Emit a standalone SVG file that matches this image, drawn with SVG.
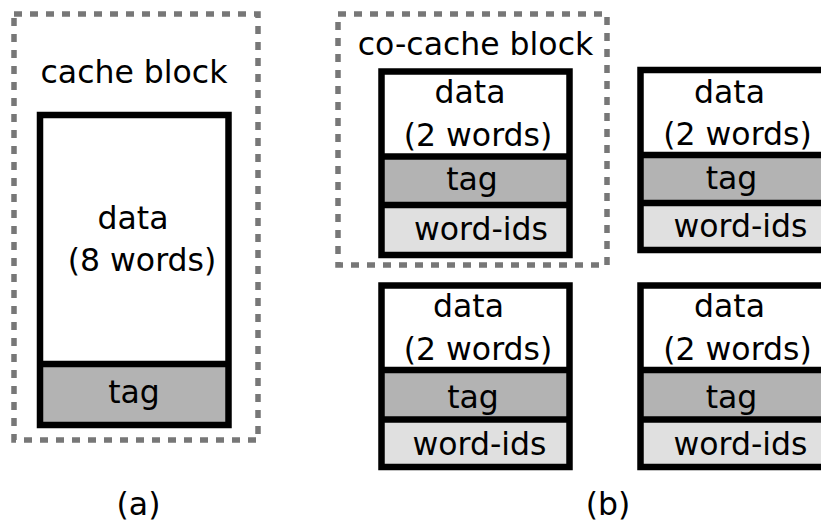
<svg xmlns="http://www.w3.org/2000/svg" width="821" height="524" viewBox="0 0 821 524">
  <style>
    text { font-family: "DejaVu Sans", "Liberation Sans", sans-serif; font-size: 31.5px; fill: #000; text-anchor: middle; }
    .group { fill: none; stroke: #777; stroke-width: 5.5; stroke-dasharray: 8 8; }
    .frame { fill: none; stroke: #000; stroke-width: 6.5; }
    .data { fill: #fff; }
    .tag { fill: #b3b3b3; }
    .ids { fill: #e0e0e0; }
    .div { stroke: #000; stroke-width: 6.5; }
  </style>

  <!-- (a) conventional cache block -->
  <g id="cache-block">
    <rect class="group" x="14" y="14" width="244" height="426"/>
    <text x="134" y="83">cache block</text>
    <rect class="data" x="40" y="115" width="188.5" height="249"/>
    <rect class="tag" x="40" y="364" width="188.5" height="61"/>
    <line class="div" x1="40" y1="364" x2="228.5" y2="364"/>
    <rect class="frame" x="40" y="115" width="188.5" height="310"/>
    <text x="133" y="229">data</text>
    <text x="142" y="271">(8 words)</text>
    <text x="134" y="403">tag</text>
  </g>

  <!-- (b) co-cache block boundary -->
  <g id="co-cache-block">
    <rect class="group" x="338" y="14" width="269" height="251"/>
    <text x="475.5" y="55">co-cache block</text>
  </g>

  <!-- sub-block, top left -->
  <g id="sub-block-1">
    <rect class="data" x="381.5" y="71.5" width="188" height="85"/>
    <rect class="tag" x="381.5" y="156.5" width="188" height="48.5"/>
    <rect class="ids" x="381.5" y="205" width="188" height="50"/>
    <line class="div" x1="381.5" y1="156.5" x2="569.5" y2="156.5"/>
    <line class="div" x1="381.5" y1="205" x2="569.5" y2="205"/>
    <rect class="frame" x="381.5" y="71.5" width="188" height="183.5"/>
    <text x="470" y="103">data</text>
    <text x="478" y="146">(2 words)</text>
    <text x="472" y="190">tag</text>
    <text x="481" y="239.5">word-ids</text>
  </g>

  <!-- sub-block, top right -->
  <g id="sub-block-2">
    <rect class="data" x="640.5" y="70" width="188" height="85"/>
    <rect class="tag" x="640.5" y="155" width="188" height="48"/>
    <rect class="ids" x="640.5" y="203" width="188" height="47"/>
    <line class="div" x1="640.5" y1="155" x2="828.5" y2="155"/>
    <line class="div" x1="640.5" y1="203" x2="828.5" y2="203"/>
    <rect class="frame" x="640.5" y="70" width="188" height="180"/>
    <text x="729.5" y="103">data</text>
    <text x="737.5" y="145">(2 words)</text>
    <text x="731.5" y="189">tag</text>
    <text x="740.5" y="237">word-ids</text>
  </g>

  <!-- sub-block, bottom left -->
  <g id="sub-block-3">
    <rect class="data" x="381.5" y="285.5" width="188" height="84.5"/>
    <rect class="tag" x="381.5" y="370" width="188" height="49.5"/>
    <rect class="ids" x="381.5" y="419.5" width="188" height="47.5"/>
    <line class="div" x1="381.5" y1="370" x2="569.5" y2="370"/>
    <line class="div" x1="381.5" y1="419.5" x2="569.5" y2="419.5"/>
    <rect class="frame" x="381.5" y="285.5" width="188" height="181.5"/>
    <text x="468.5" y="317">data</text>
    <text x="478" y="360">(2 words)</text>
    <text x="473" y="408">tag</text>
    <text x="479.5" y="455">word-ids</text>
  </g>

  <!-- sub-block, bottom right -->
  <g id="sub-block-4">
    <rect class="data" x="640.5" y="285.5" width="188" height="84.5"/>
    <rect class="tag" x="640.5" y="370" width="188" height="49.5"/>
    <rect class="ids" x="640.5" y="419.5" width="188" height="47.5"/>
    <line class="div" x1="640.5" y1="370" x2="828.5" y2="370"/>
    <line class="div" x1="640.5" y1="419.5" x2="828.5" y2="419.5"/>
    <rect class="frame" x="640.5" y="285.5" width="188" height="181.5"/>
    <text x="729.5" y="317">data</text>
    <text x="737.5" y="360">(2 words)</text>
    <text x="731.5" y="408">tag</text>
    <text x="740.5" y="455">word-ids</text>
  </g>

  <!-- panel captions -->
  <g id="captions">
    <text x="138.5" y="515">(a)</text>
    <text x="608" y="515">(b)</text>
  </g>
</svg>
